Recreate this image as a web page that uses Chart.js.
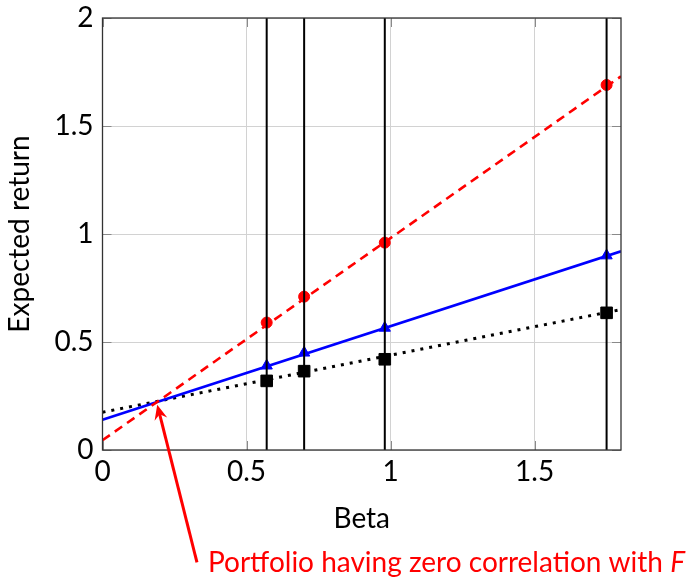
<!DOCTYPE html>
<html>
<head>
<meta charset="utf-8">
<script src="https://cdn.jsdelivr.net/npm/chart.js@4/dist/chart.umd.min.js"></script>
<style>
  html, body { margin: 0; padding: 0; background: #fff; }
  #wrap { width: 690px; height: 577px; }
</style>
</head>
<body>
<div id="wrap"><canvas id="c" width="690" height="577"></canvas></div>
<script>
// Portfolio betas (vertical guide lines and marker positions)
const betas = [0.57, 0.70, 0.98, 1.75];
// Expected returns of the portfolios for each model
const redReturns = [0.59, 0.71, 0.96, 1.69];
const blueReturns = [0.39, 0.45, 0.565, 0.90];
const blackReturns = [0.32, 0.365, 0.42, 0.635];
// Fitted lines, evaluated at the axis ends
const lineBetas = [0, 1.8];
const redLine = [0.045, 1.73];
const blueLine = [0.14, 0.92];
const blackLine = [0.175, 0.65];
// Axis ticks
const xTicks = [0, 0.5, 1, 1.5];
const yTicks = [0, 0.5, 1, 1.5, 2];
// Annotation arrow (tip, tail) in data coordinates
const arrowTip = { x: 0.19, y: 0.21 };
const arrowTail = { x: 0.328, y: -0.52 };
const noteText = 'Portfolio having zero correlation with ';
const noteSymbol = 'F';

const FONT = 'Lato, "Liberation Sans", sans-serif';
const FS = 28;

const pts = (xs, ys) => xs.map((x, i) => ({ x, y: ys[i] }));

const datasets = [];
betas.forEach(b => {
  datasets.push({
    data: [{ x: b, y: 0 }, { x: b, y: 2 }],
    borderColor: '#000', borderWidth: 2, pointRadius: 0, order: 0
  });
});
datasets.push({
  data: pts(betas, redReturns), showLine: false,
  pointStyle: 'circle', pointRadius: 5.5, backgroundColor: '#ff0000', borderColor: '#ff0000', order: 1
});
datasets.push({
  data: pts(betas, blueReturns), showLine: false,
  pointStyle: 'triangle', pointRadius: 6.5, backgroundColor: '#0000ff', borderColor: '#0000ff', order: 1
});
datasets.push({
  data: pts(betas, blackReturns), showLine: false,
  pointStyle: 'rect', pointRadius: 8.2, backgroundColor: '#000', borderColor: '#000', order: 1
});
datasets.push({
  data: pts(lineBetas, redLine), borderColor: '#ff0000', borderWidth: 2.6,
  borderDash: [9, 6], pointRadius: 0, order: 2
});
datasets.push({
  data: pts(lineBetas, blueLine), borderColor: '#0000ff', borderWidth: 2.6,
  pointRadius: 0, order: 2
});
datasets.push({
  data: pts(lineBetas, blackLine), borderColor: '#000', borderWidth: 3,
  borderDash: [3, 6], pointRadius: 0, order: 2
});

// Frame, inward tick marks and the red annotation
const decorations = {
  id: 'decorations',
  afterDatasetsDraw(chart) {
    const { ctx, chartArea: a, scales: { x, y } } = chart;
    ctx.save();
    ctx.strokeStyle = '#8a8a8a';
    ctx.lineWidth = 1;
    const tl = 9;
    xTicks.forEach(v => {
      const px = Math.round(x.getPixelForValue(v)) + 0.5;
      ctx.beginPath();
      ctx.moveTo(px, a.bottom); ctx.lineTo(px, a.bottom - tl);
      ctx.moveTo(px, a.top); ctx.lineTo(px, a.top + tl);
      ctx.stroke();
    });
    yTicks.forEach(v => {
      const py = Math.round(y.getPixelForValue(v)) + 0.5;
      ctx.beginPath();
      ctx.moveTo(a.left, py); ctx.lineTo(a.left + tl, py);
      ctx.moveTo(a.right, py); ctx.lineTo(a.right - tl, py);
      ctx.stroke();
    });
    ctx.strokeStyle = '#333';
    ctx.lineWidth = 1.3;
    ctx.strokeRect(a.left, a.top, a.right - a.left, a.bottom - a.top);
    ctx.restore();
  },
  afterDraw(chart) {
    const { ctx, scales: { x, y } } = chart;
    const tx = x.getPixelForValue(arrowTip.x), ty = y.getPixelForValue(arrowTip.y);
    const sx = x.getPixelForValue(arrowTail.x), sy = y.getPixelForValue(arrowTail.y);
    const ang = Math.atan2(ty - sy, tx - sx);
    const ux = Math.cos(ang), uy = Math.sin(ang);
    const nx0 = -uy, ny0 = ux;
    ctx.save();
    ctx.strokeStyle = '#ff0000';
    ctx.fillStyle = '#ff0000';
    ctx.lineWidth = 3;
    ctx.lineCap = 'butt';
    ctx.beginPath();
    ctx.moveTo(sx, sy);
    ctx.lineTo(tx - 8 * ux, ty - 8 * uy);
    ctx.stroke();
    // stealth arrow head
    const hl = 15, hw = 6.5, notch = 5;
    ctx.beginPath();
    ctx.moveTo(tx, ty);
    ctx.lineTo(tx - hl * ux + hw * nx0, ty - hl * uy + hw * ny0);
    ctx.lineTo(tx - (hl - notch) * ux, ty - (hl - notch) * uy);
    ctx.lineTo(tx - hl * ux - hw * nx0, ty - hl * uy - hw * ny0);
    ctx.closePath();
    ctx.fill();
    // note text
    ctx.textBaseline = 'alphabetic';
    ctx.textAlign = 'left';
    ctx.font = FS + 'px ' + FONT;
    const nx = sx + 11, ny = sy + 10;
    ctx.fillText(noteText, nx, ny);
    const w = ctx.measureText(noteText).width;
    ctx.font = 'italic ' + FS + 'px ' + FONT;
    ctx.fillText(noteSymbol, nx + w, ny);
    ctx.restore();
  }
};

const fmt = v => String(v);

new Chart(document.getElementById('c'), {
  type: 'line',
  data: { datasets },
  options: {
    responsive: false,
    animation: false,
    events: [],
    layout: { padding: { left: 0, right: 69, top: 18, bottom: 39 } },
    plugins: { legend: { display: false }, tooltip: { enabled: false } },
    scales: {
      x: {
        type: 'linear', min: 0, max: 1.8,
        afterBuildTicks: s => { s.ticks = xTicks.map(v => ({ value: v })); },
        afterFit: s => { s.height = 88; },
        grid: { color: '#d2d2d2', lineWidth: 1, drawTicks: false },
        border: { display: false },
        ticks: { color: '#000', padding: 5, font: { family: FONT, size: FS }, maxRotation: 0, callback: fmt },
        title: { display: true, text: 'Beta', color: '#000', font: { family: FONT, size: FS }, padding: { top: 0, bottom: 2 } }
      },
      y: {
        type: 'linear', min: 0, max: 2,
        afterBuildTicks: s => { s.ticks = yTicks.map(v => ({ value: v })); },
        afterFit: s => { s.width = 102.5; },
        grid: { color: '#d2d2d2', lineWidth: 1, drawTicks: false },
        border: { display: false },
        ticks: { color: '#000', padding: 9, font: { family: FONT, size: FS, lineHeight: 0.6 }, callback: fmt },
        title: { display: true, text: 'Expected return', color: '#000', font: { family: FONT, size: FS }, padding: { top: 3, bottom: 0 } }
      }
    }
  },
  plugins: [decorations]
});
</script>
</body>
</html>
